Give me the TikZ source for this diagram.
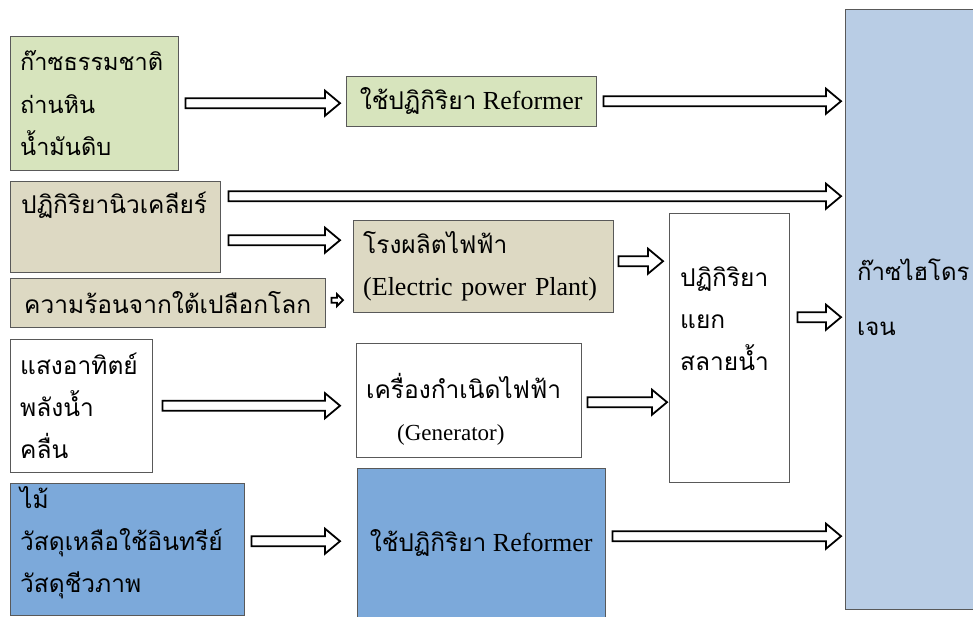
\documentclass[tikz,border=0pt]{standalone}
\usepackage{fontspec}
\setmainfont{Liberation Serif}
\newfontfamily\thaifont[Script=Thai]{Loma}
\usetikzlibrary{calc}

\definecolor{boxgreen}{HTML}{D7E4BD}
\definecolor{boxkhaki}{HTML}{DDD9C3}
\definecolor{boxblue}{HTML}{7CA9DA}
\definecolor{boxsky}{HTML}{B9CDE5}

\newcommand{\thai}[1]{{\thaifont\fontsize{24.5}{42}\selectfont #1}}

\begin{document}
\begin{tikzpicture}[x=1pt, y=-1pt,
	box/.style={draw=black!65, anchor=north west, inner xsep=10pt, inner ysep=0pt, align=left},
	th/.style={font={\thaifont\fontsize{24.5}{42}\selectfont}},
	lat/.style={font={\fontsize{26}{42}\selectfont}},
	hollow/.style n args={3}{line width=1.8pt, fill=white, to path={let \p1=(\tikztostart), \p2=(\tikztotarget) in (\x1,\y1+#1pt) -- (\x2-#3pt,\y1+#1pt) -- (\x2-#3pt,\y1+#2pt) -- (\x2,\y1) -- (\x2-#3pt,\y1-#2pt) -- (\x2-#3pt,\y1-#1pt) -- (\x1,\y1-#1pt) -- cycle}},
	fat/.style={hollow={5}{12.5}{15}},
	slim/.style={hollow={2.5}{6}{6}}]
	\useasboundingbox (0,0) rectangle (973,616);
	% sources
	\node[box, fill=boxgreen, minimum width=168, minimum height=134, text width=148, font={\thaifont\fontsize{23.5}{42.5}\selectfont}] (A) at (10,36) {ก๊าซธรรมชาติ\\ถ่านหิน\\น้ำมันดิบ};
	\node[box, fill=boxkhaki, minimum width=210, minimum height=91] (C) at (10,181) {};
	\node[th, anchor=west, inner sep=0pt] (Ct) at ([shift={(11,24)}]C.north west) {ปฏิกิริยานิวเคลียร์};
	\node[box, th, fill=boxkhaki, minimum width=315, minimum height=49] (E) at (10,278) {ความร้อนจากใต้เปลือกโลก};
	\node[box, th, fill=white, minimum width=142, minimum height=133, text width=122] (F) at (10,339) {แสงอาทิตย์\\พลังน้ำ\\คลื่น};
	\node[box, th, fill=boxblue, minimum width=234, minimum height=132, text width=214, text depth=104pt] (I) at (10,483) {ไม้\\วัสดุเหลือใช้อินทรีย์\\วัสดุชีวภาพ};
	% processes
	\node[box, lat, fill=boxgreen, minimum width=250, minimum height=50] (B) at (346,76) {\thai{ใช้ปฏิกิริยา} Reformer};
	\node[box, lat, fill=boxkhaki, minimum width=260, minimum height=92, text width=240] (D) at (353,220) {\thai{โรงผลิตไฟฟ้า}\\(Electric power Plant)};
	\node[box, fill=white, minimum width=225, minimum height=114, text width=205, text depth=28pt, font={\fontsize{23}{42}\selectfont}] (G) at (356,343) {\thai{เครื่องกำเนิดไฟฟ้า}\\\hspace*{31pt}(Generator)};
	\node[box, lat, fill=boxblue, minimum width=248, minimum height=150] (J) at (357,468) {\thai{ใช้ปฏิกิริยา} Reformer};
	\node[box, fill=white, minimum width=120, minimum height=269] (W) at (669,213) {};
	\node[th, anchor=west, inner sep=0pt, align=left] (Wt) at ([shift={(11,106)}]W.north west) {ปฏิกิริยา\\แยก\\สลายน้ำ};
	% product
	\node[box, fill=boxsky, minimum width=140, minimum height=600] (H) at (845,9) {};
	\node[anchor=west, inner sep=0pt, align=left, font={\thaifont\fontsize{24}{55}\selectfont}] (Ht) at ([shift={(12,288)}]H.north west) {ก๊าซไฮโดร\\เจน};
	% arrows
	\foreach \a/\b/\p/\q/\dy in {A/B/7/6/0, B/H/7/4/0, C/H/8/4/30.5, C/D/8/13/-13.5, D/W/5/6/5, F/G/10/16/0, G/W/6/2/-2, W/H/8/4/30.5, I/J/7/17/8, J/H/7/4/7}
		{\draw[fat] ([xshift=\p, yshift=\dy]\a.east) to ([xshift=-\q]\b.west);}
	\draw[slim] ([xshift=6, yshift=2.5]E.east) to ([xshift=-10]D.west);
\end{tikzpicture}
\end{document}
